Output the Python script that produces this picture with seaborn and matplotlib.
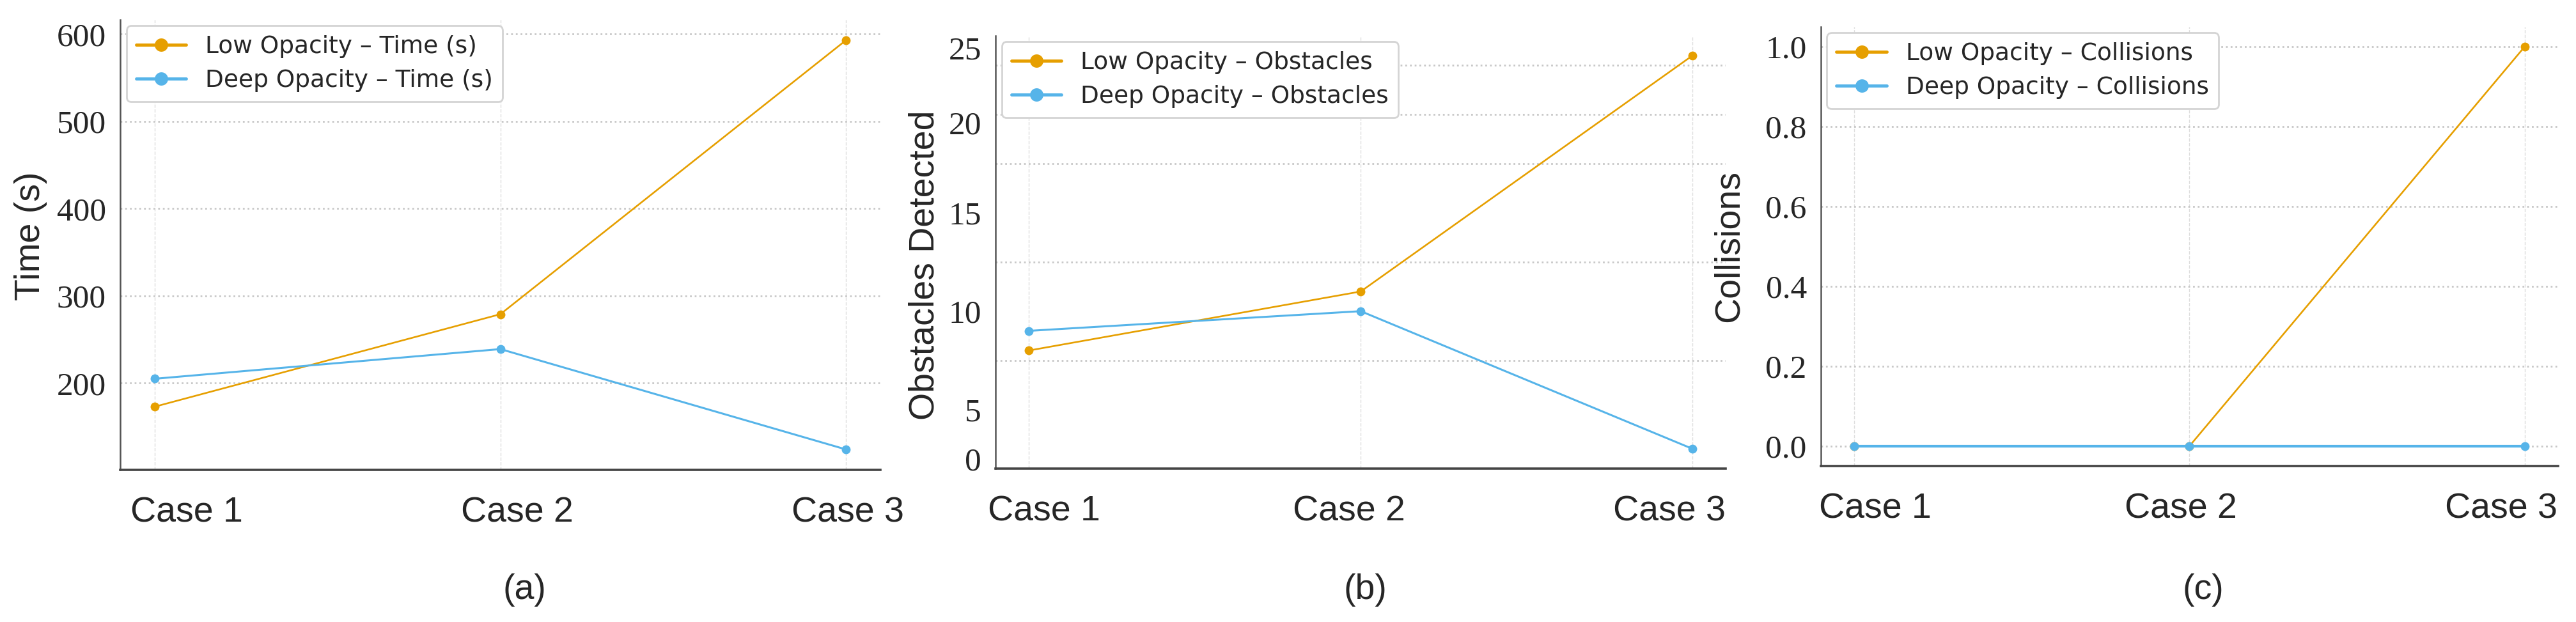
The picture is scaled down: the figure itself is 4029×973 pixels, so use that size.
import matplotlib.pyplot as plt
import seaborn as sns
from matplotlib.ticker import FixedLocator, FixedFormatter
from matplotlib.transforms import ScaledTranslation

# ---- data ----
cases = ["Case 1", "Case 2", "Case 3"]

time_low = [173, 279, 593]
time_deep = [205, 239, 124]

obstacles_low = [8, 11, 23]
obstacles_deep = [9, 10, 3]

collisions_low = [0, 0, 1]
collisions_deep = [0, 0, 0]

# y ticks per panel (panel b keeps the labels where the source figure has them)
time_ticks = [200, 300, 400, 500, 600]
obstacle_grid = [2.5, 5, 7.5, 10, 12.5, 15, 17.5, 20, 22.5]
obstacle_label_pos = [2.5, 5, 10, 15, 19.6, 23.4]
obstacle_labels = ["0", "5", "10", "15", "20", "25"]
collision_ticks = [0.0, 0.2, 0.4, 0.6, 0.8, 1.0]

LOW_COLOR = "#E69F00"
DEEP_COLOR = "#56B4E9"
DPI = 100

sns.set_theme(style="white")
plt.rcParams["font.family"] = ["Liberation Sans", "DejaVu Sans"]


def draw_panel(ax, low, deep, metric, ylabel, label_xy, deep_lw=2.2):
    """One panel: two opacity series over the three cases."""
    sns.lineplot(x=cases, y=low, ax=ax, color=LOW_COLOR, marker="o",
                 markersize=10, markeredgewidth=0, linewidth=1.9,
                 label=f"Low Opacity \u2013 {metric}", errorbar=None)
    sns.lineplot(x=cases, y=deep, ax=ax, color=DEEP_COLOR, marker="o",
                 markersize=10, markeredgewidth=0, linewidth=deep_lw,
                 label=f"Deep Opacity \u2013 {metric}", errorbar=None)

    leg = ax.legend(loc="upper left", bbox_to_anchor=(0, 1), borderaxespad=0.25,
                    prop={"family": "DejaVu Sans", "size": 27},
                    frameon=True, fancybox=True, framealpha=1,
                    edgecolor="#d4d4d4", markerscale=1.5,
                    handlelength=2.1, handletextpad=0.8, labelspacing=0.45)
    leg.get_frame().set_linewidth(2)
    for line in leg.get_lines():
        line.set_linewidth(3.5)

    ax.set_xlabel("")
    ax.set_ylabel(ylabel, fontsize=40)
    ax.yaxis.set_label_coords(*label_xy)

    ax.grid(axis="x", linestyle="--", color="#dedede", linewidth=1)
    ax.tick_params(axis="x", direction="in", length=6, width=1.2,
                   labelsize=40, pad=30, color="#444444")
    ax.tick_params(axis="y", which="both", direction="in", length=5, width=1.5,
                   labelsize=37, pad=16, color="#555555")

    sns.despine(ax=ax)
    ax.spines["left"].set_color("#555555")
    ax.spines["left"].set_linewidth(1.8)
    ax.spines["bottom"].set_color("#444444")
    ax.spines["bottom"].set_linewidth(2.6)


def finish_ticks(ax, x_shift_px):
    """Serif y tick labels; case labels nudged as in the source figure."""
    plt.setp(ax.get_yticklabels(), fontfamily="Liberation Serif")
    for lab, dx in zip(ax.get_xticklabels(), x_shift_px):
        lab.set_transform(lab.get_transform()
                          + ScaledTranslation(dx / DPI, 0, fig.dpi_scale_trans))


fig = plt.figure(figsize=(40.3, 9.73), dpi=DPI)
ax_a = fig.add_axes([0.0467, 0.2446, 0.2950, 0.7235])
ax_b = fig.add_axes([0.3864, 0.2467, 0.2834, 0.6958])
ax_c = fig.add_axes([0.7067, 0.2508, 0.2861, 0.7061])

# (a) time
draw_panel(ax_a, time_low, time_deep, "Time (s)", "Time (s)", (-0.096, 0.52))
ax_a.set_yticks(time_ticks)
ax_a.grid(axis="y", linestyle=":", color="#c8c8c8", linewidth=2)
finish_ticks(ax_a, [50, 26, 3])

# (b) obstacles: gridlines every 2.5, labels as printed in the source
draw_panel(ax_b, obstacles_low, obstacles_deep, "Obstacles",
           "Obstacles Detected", (-0.074, 0.47))
ax_b.yaxis.set_major_locator(FixedLocator(obstacle_label_pos))
ax_b.yaxis.set_major_formatter(FixedFormatter(obstacle_labels))
ax_b.yaxis.set_minor_locator(FixedLocator(obstacle_grid))
ax_b.tick_params(axis="y", which="major", length=0)
ax_b.grid(axis="y", which="minor", linestyle=":", color="#c8c8c8", linewidth=2)
ax_b.grid(axis="y", which="major", visible=False)
finish_ticks(ax_b, [24, -18, -36])

# (c) collisions
draw_panel(ax_c, collisions_low, collisions_deep, "Collisions", "Collisions",
           (-0.102, 0.50), deep_lw=3.0)
ax_c.set_yticks(collision_ticks)
ax_c.set_yticklabels([f"{t:.1f}" for t in collision_ticks])
ax_c.grid(axis="y", linestyle=":", color="#c8c8c8", linewidth=2)
finish_ticks(ax_c, [33, -14, -37])

# sub-figure captions
for x, cap in [(0.2037, "(a)"), (0.530, "(b)"), (0.855, "(c)")]:
    fig.text(x, 0.0514, cap, ha="center", va="center", fontsize=40)

fig.savefig("out.png", dpi=DPI, facecolor="white")
plt.close(fig)
